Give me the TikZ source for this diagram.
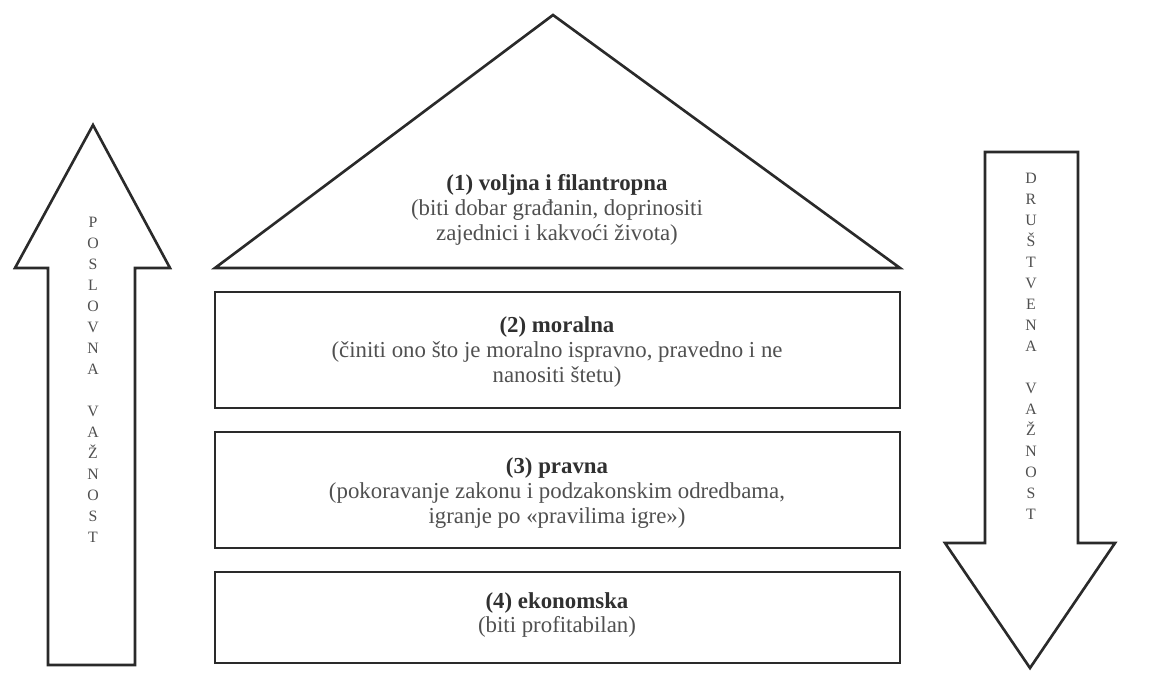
\documentclass[tikz,border=0pt]{standalone}
\usepackage{fontspec}
\setmainfont{Liberation Serif}
\definecolor{linec}{HTML}{2A2A2A}
\definecolor{textc}{HTML}{505050}
\definecolor{boldc}{HTML}{303030}
\begin{document}
\begin{tikzpicture}[x=0.02cm,y=-0.02cm,
  shapeline/.style={draw=linec,line width=1.5pt,line join=miter,fill=white},
  maintext/.style={align=center,text=textc,font=\fontsize{13}{14.2}\selectfont,inner sep=0pt},
  vlabel/.style={align=center,text=textc,font=\fontsize{9}{11.95}\selectfont,inner sep=0pt}]
\useasboundingbox (0,0) rectangle (1158,693);
% triangle (1)
\draw[shapeline] (553,15) -- (900,268) -- (215,268) -- cycle;
% boxes
\draw[shapeline] (215,292) rectangle (900,408);
\draw[shapeline] (215,432) rectangle (900,548);
\draw[shapeline] (215,572) rectangle (900,663);
% left arrow (up)
\draw[shapeline] (93,125) -- (170,268) -- (135,268) -- (135,665) -- (48,665) -- (48,268) -- (15,268) -- cycle;
% right arrow (down)
\draw[shapeline] (985,152) -- (1078,152) -- (1078,543) -- (1115,543) -- (1030,668) -- (945,543) -- (985,543) -- cycle;
% texts
\node[maintext] (t1) at (557,210) {{\bfseries\color{boldc}(1) voljna i filantropna}\\(biti dobar građanin, doprinositi\\zajednici i kakvoći života)};
\node[maintext] (t2) at (557,352) {{\bfseries\color{boldc}(2) moralna}\\(činiti ono što je moralno ispravno, pravedno i ne\\nanositi štetu)};
\node[maintext] (t3) at (557,493) {{\bfseries\color{boldc}(3) pravna}\\(pokoravanje zakonu i podzakonskim odredbama,\\igranje po «pravilima igre»)};
\node[maintext] (t4) at (557,615) {{\bfseries\color{boldc}(4) ekonomska}\\(biti profitabilan)};
\node[vlabel] (lv) at (93,380) {P\\O\\S\\L\\O\\V\\N\\A\\[11.95pt]V\\A\\Ž\\N\\O\\S\\T};
\node[vlabel] (rv) at (1031,346) {D\\R\\U\\Š\\T\\V\\E\\N\\A\\[11.95pt]V\\A\\Ž\\N\\O\\S\\T};
\end{tikzpicture}
\end{document}
